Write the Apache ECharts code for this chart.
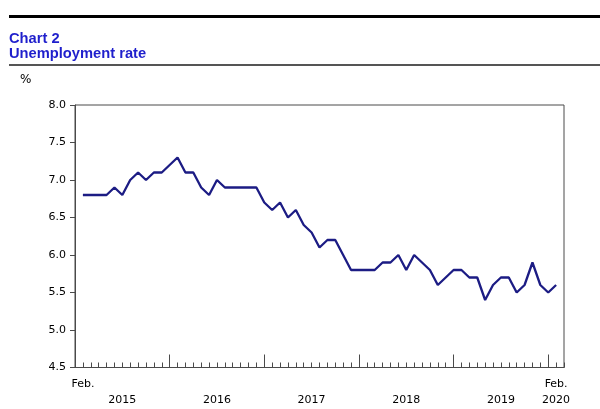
<!DOCTYPE html>
<html>
<head>
<meta charset="utf-8">
<script src="https://cdn.jsdelivr.net/npm/echarts@6/dist/echarts.min.js"></script>
<style>
html,body{margin:0;padding:0;background:#fff;}
#c{width:600px;height:409px;}
</style>
</head>
<body>
<div id="c"></div>
<script>
// Axis spans Jan 2015 .. Mar 2020; data Feb 2015 .. Feb 2020
const years = [2015, 2016, 2017, 2018, 2019, 2020];
const monthNames = ['Jan','Feb','Mar','Apr','May','Jun','Jul','Aug','Sep','Oct','Nov','Dec'];
const yTicks = [4.5, 5.0, 5.5, 6.0, 6.5, 7.0, 7.5, 8.0];
// Unemployment rate (%), Feb 2015 .. Feb 2020
const rates = [
  6.8, 6.8, 6.8, 6.8, 6.9, 6.8, 7.0, 7.1, 7.0, 7.1, 7.1,
  7.2, 7.3, 7.1, 7.1, 6.9, 6.8, 7.0, 6.9, 6.9, 6.9, 6.9, 6.9,
  6.7, 6.6, 6.7, 6.5, 6.6, 6.4, 6.3, 6.1, 6.2, 6.2, 6.0, 5.8,
  5.8, 5.8, 5.8, 5.9, 5.9, 6.0, 5.8, 6.0, 5.9, 5.8, 5.6, 5.7,
  5.8, 5.8, 5.7, 5.7, 5.4, 5.6, 5.7, 5.7, 5.5, 5.6, 5.9, 5.6,
  5.5, 5.6
];

const categories = [];
years.forEach(y => {
  monthNames.forEach((m, k) => {
    if (y === 2020 && k > 2) return;
    categories.push(m + ' ' + y);
  });
});
// categories: Jan 2015 ... Mar 2020 (63)
const seriesData = [null].concat(rates).concat([null]);

function labelFor(idx) {
  const c = categories[idx];
  const [m, y] = c.split(' ');
  if (idx === 1) return 'Feb.';
  if (idx === categories.length - 2) return 'Feb.\n' + y;
  if (m === 'Jul') return '\n' + y;
  return '';
}

const chart = echarts.init(document.getElementById('c'), null, {renderer: 'canvas'});
const axisColor = '#4a4a4a';
chart.setOption({
  animation: false,
  backgroundColor: '#fff',
  grid: {
    left: 75, right: 36, top: 105, bottom: 41.5,
    show: true, borderColor: axisColor, borderWidth: 1, backgroundColor: 'transparent'
  },
  graphic: [
    {type: 'rect', shape: {x: 9, y: 15, width: 591, height: 3}, style: {fill: '#000'}},
    {type: 'rect', shape: {x: 9, y: 64, width: 591, height: 2}, style: {fill: '#555'}},
    {type: 'text', left: 9, top: 31, style: {text: 'Chart 2', fill: '#1f1fcc', font: 'bold 14.7px "Liberation Sans", Arial, sans-serif'}},
    {type: 'text', left: 9, top: 46, style: {text: 'Unemployment rate', fill: '#1f1fcc', font: 'bold 14.7px "Liberation Sans", Arial, sans-serif'}},
    {type: 'text', left: 20, top: 74, style: {text: '%', fill: '#000', font: '12px "DejaVu Sans", Verdana, sans-serif'}}
  ],
  xAxis: [
    {
      type: 'category', data: categories, boundaryGap: false,
      axisLine: {show: true, lineStyle: {color: axisColor, width: 1}},
      axisTick: {show: true, interval: 0, inside: true, length: 5, lineStyle: {color: axisColor}},
      axisLabel: {
        show: true, interval: 0, margin: 9, lineHeight: 16,
        color: '#000', fontSize: 11, fontFamily: '"DejaVu Sans", Verdana, sans-serif',
        formatter: (v, idx) => labelFor(idx)
      },
      splitLine: {show: false}
    },
    {
      type: 'category', data: categories, boundaryGap: false, position: 'bottom',
      axisLine: {show: false},
      axisTick: {show: true, inside: true, length: 13, lineStyle: {color: axisColor},
        interval: (idx) => categories[idx].startsWith('Jan') && idx > 0},
      axisLabel: {show: false},
      splitLine: {show: false}
    }
  ],
  yAxis: {
    type: 'value', min: 4.5, max: 8.0, interval: 0.5,
    axisLine: {show: true, lineStyle: {color: axisColor, width: 1}},
    axisTick: {show: true, length: 5, lineStyle: {color: axisColor}},
    axisLabel: {
      margin: 9, color: '#000', fontSize: 11, fontFamily: '"DejaVu Sans", Verdana, sans-serif',
      formatter: v => yTicks.includes(+v.toFixed(1)) ? v.toFixed(1) : ''
    },
    splitLine: {show: false}
  },
  series: [{
    type: 'line', data: seriesData, xAxisIndex: 0,
    symbol: 'none', connectNulls: false,
    lineStyle: {color: '#1c1c84', width: 2.3},
    itemStyle: {color: '#1c1c84'}
  }]
});
</script>
</body>
</html>
